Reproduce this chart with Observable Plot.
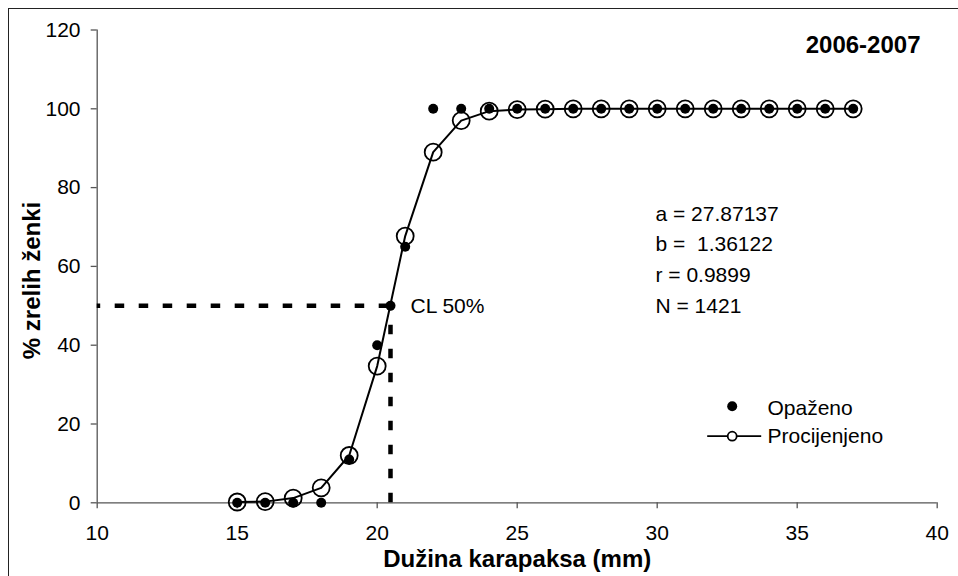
<!DOCTYPE html>
<html>
<head>
<meta charset="utf-8">
<script src="https://cdn.jsdelivr.net/npm/d3@7"></script>
<script src="https://cdn.jsdelivr.net/npm/@observablehq/plot@0.6"></script>
<style>
  html, body { margin: 0; padding: 0; background: #fff; }
  #wrap { position: relative; width: 958px; height: 576px; overflow: hidden; background: #fff; }
  #frame { position: absolute; left: 8px; top: 8px; width: 1000px; height: 600px;
           border-left: 1.5px solid #222; border-top: 1.5px solid #222; pointer-events: none; }
  #wrap svg { position: absolute; left: 0; top: 0; }
</style>
</head>
<body>
<div id="wrap"><div id="frame"></div></div>
<script>
// Carapace length classes (mm)
const lengths   = [15, 16, 17, 18, 19, 20, 21, 22, 23, 24, 25, 26, 27, 28, 29, 30, 31, 32, 33, 34, 35, 36, 37];
// Observed % of mature females ("Opaženo")
const observed  = [0, 0, 0, 0, 11, 40, 65, 100, 100, 100, 100, 100, 100, 100, 100, 100, 100, 100, 100, 100, 100, 100, 100];
// Estimated % of mature females ("Procijenjeno")
const estimated = [0.2, 0.3, 1.2, 3.8, 12, 34.7, 67.7, 89, 97, 99.4, 99.8, 99.9, 100, 100, 100, 100, 100, 100, 100, 100, 100, 100, 100];
// CL 50% point
const clLength  = [20.475];
const clPercent = [50];
// Tick values
const xTicks = [10, 15, 20, 25, 30, 35, 40];
const yTicks = [0, 20, 40, 60, 80, 100, 120];
// Texts
const seasonLabel = "2006-2007";
const paramLines = ["a = 27.87137", "b =  1.36122", "r = 0.9899", "N = 1421"];
const legendLabels = ["Opaženo", "Procijenjeno"];
const xTitle = "Dužina karapaksa (mm)";
const yTitle = "% zrelih ženki";
const clLabel = "CL 50%";

const data = lengths.map((x, i) => ({x, obs: observed[i], est: estimated[i]}));
const cl = clLength.map((x, i) => ({x, y: clPercent[i]}));

const lineCircle = {
  draw(ctx) {
    const r = 4.5;
    ctx.moveTo(-25, 0); ctx.lineTo(-r, 0);
    ctx.moveTo(r, 0); ctx.arc(0, 0, r, 0, 2 * Math.PI);
    ctx.moveTo(r, 0); ctx.lineTo(29, 0);
  }
};

const font = "'Liberation Sans', Arial, Helvetica, sans-serif";

const plot = Plot.plot({
  width: 958,
  height: 576,
  marginLeft: 96.7,
  marginRight: 21.3,
  marginTop: 29.5,
  marginBottom: 73.7,
  style: {fontFamily: font, fontSize: "21px", color: "#000", background: "transparent", overflow: "visible"},
  x: {domain: [10, 40]},
  y: {domain: [0, 120]},
  marks: [
    Plot.ruleY([0], {stroke: "#555", strokeWidth: 1.3}),
    Plot.ruleX([10], {stroke: "#555", strokeWidth: 1.3}),
    Plot.axisX({ticks: xTicks, tickSize: 6, tickPadding: 16.7, stroke: "#555", strokeWidth: 1.3, fill: "#000", label: null, tickFormat: d => String(d)}),
    Plot.axisY({ticks: yTicks, tickSize: 6, tickPadding: 10.7, stroke: "#555", strokeWidth: 1.3, fill: "#000", label: null, tickFormat: d => String(d)}),
    // CL50 dashed guides
    Plot.ruleY(cl, {y: "y", x1: 10, x2: "x", stroke: "#000", strokeWidth: 4.5, strokeDasharray: "9.5,14.5", strokeDashoffset: 6}),
    Plot.ruleX(cl, {x: "x", y1: 0, y2: "y", stroke: "#000", strokeWidth: 4.5, strokeDasharray: "9.5,14.5"}),
    // estimated curve
    Plot.line(data, {x: "x", y: "est", stroke: "#000", strokeWidth: 2}),
    // observed
    Plot.dot(data, {x: "x", y: "obs", r: 5, fill: "#000", stroke: "none"}),
    Plot.dot(cl, {x: "x", y: "y", r: 5, fill: "#000", stroke: "none"}),
    // estimated markers
    Plot.dot(data, {x: "x", y: "est", r: 8.5, stroke: "#000", strokeWidth: 1.8, fill: "none"}),
    // CL label
    Plot.text(cl, {x: "x", y: "y", text: () => clLabel, dx: 20, textAnchor: "start", lineAnchor: "middle", fill: "#000"}),
    // season label
    Plot.text([seasonLabel], {text: d => d, frameAnchor: "top-right", dx: -16.7, dy: 22.5, textAnchor: "end", lineAnchor: "bottom", fontWeight: "bold", fontSize: 24, fill: "#000"}),
    // parameter lines
    ...paramLines.map((t, i) => Plot.text([t], {text: d => d, frameAnchor: "top-left", dx: 558.3, dy: 190.5 + i * 30.7, textAnchor: "start", lineAnchor: "bottom", fill: "#000"})),
    // legend
    Plot.dot([0], {frameAnchor: "top-left", dx: 635, dy: 376.2, r: 5, fill: "#000", stroke: "none"}),
    Plot.dot([0], {frameAnchor: "top-left", dx: 635, dy: 406.2, symbol: lineCircle, stroke: "#000", strokeWidth: 1.8, fill: "none"}),
    Plot.text([legendLabels[0]], {text: d => d, frameAnchor: "top-left", dx: 670.3, dy: 384.5, textAnchor: "start", lineAnchor: "bottom", fill: "#000"}),
    Plot.text([legendLabels[1]], {text: d => d, frameAnchor: "top-left", dx: 670.3, dy: 412.5, textAnchor: "start", lineAnchor: "bottom", fill: "#000"}),
    // axis titles
    Plot.text([xTitle], {text: d => d, frameAnchor: "bottom", dy: 63.7, textAnchor: "middle", lineAnchor: "bottom", fontWeight: "bold", fontSize: 24, fill: "#000"}),
    Plot.text([yTitle], {text: d => d, frameAnchor: "left", dx: -56.7, dy: 14.1, rotate: -90, textAnchor: "middle", lineAnchor: "bottom", fontWeight: "bold", fontSize: 24, fill: "#000"})
  ]
});

document.getElementById("wrap").insertBefore(plot, document.getElementById("frame"));
</script>
</body>
</html>
